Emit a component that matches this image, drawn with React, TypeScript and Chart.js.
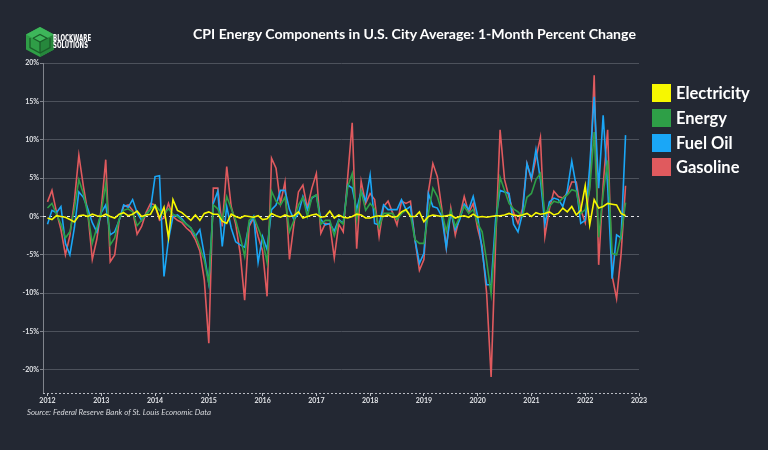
import React, { useEffect, useRef } from "react";
import { Chart, registerables } from "chart.js";

Chart.register(...registerables);

// ---- data (monthly % change, index 0 = Jan 2012) ----
const years = ["2012", "2013", "2014", "2015", "2016", "2017", "2018", "2019", "2020", "2021", "2022", "2023"];
const yTickValues = [-20, -15, -10, -5, 0, 5, 10, 15, 20];

const electricity = [
  -0.2, -0.4, 0.1, 0.0, -0.1, -0.4, -0.7, 0.1, 0.2, 0.0, 0.3, 0.1, 0.0, 0.3, 0.0, -0.2, 0.3, 0.5, 0.1, 0.3, 0.7, 0.0,
  0.2, 0.3, 1.4, -0.2, 1.2, -2.8, 2.2, 0.8, 0.5, 0.0, -0.5, 0.2, -0.5, 0.4, 0.6, 0.3, 0.3, -0.6, -0.9, 0.3, 0.0, -0.2, 0.1,
  0.0, -0.1, 0.1, -0.4, -0.3, 0.4, 0.1, -0.1, 0.2, 0.0, 0.1, 0.6, -0.2, 0.0, 0.2, 0.3, -0.1, 0.0, 0.7, -0.2, 0.2, -0.1,
  -0.2, 0.0, 0.3, 0.2, -0.2, -0.2, 0.0, 0.1, 0.0, 0.2, -0.1, 0.0, 0.6, 0.9, 0.0, 0.0, 0.6, -0.7, 0.0, 0.2, 0.1, 0.0,
  0.1, 0.2, -0.2, 0.0, 0.1, -0.1, 0.3, -0.1, 0.0, -0.1, 0.0, 0.1, 0.1, 0.2, 0.4, 0.2, 0.1, 0.2, 0.4, 0.0, 0.5, 0.3,
  0.4, 0.6, 0.2, 0.4, 1.1, 0.6, 1.3, 0.2, 0.8, 4.0, -1.1, 2.2, 1.1, 1.3, 1.7, 1.6, 1.5, 0.4, 0.1,
];

const energy = [
  1.1, 1.7, 0.3, -1.0, -2.8, -2.0, 1.0, 4.8, 3.0, 0.3, -3.5, -1.5, 0.5, 4.3, -3.7, -2.8, -0.3, 0.8, 1.0, 0.6, -1.2, -0.5,
  0.3, 1.0, 1.5, 0.8, 0.3, 1.0, 0.3, 0.0, -0.5, -1.0, -1.5, -2.4, -4.0, -5.7, -8.7, 1.5, 1.0, -0.5, 2.6, 1.0, -0.5, -2.6, -5.2,
  -0.5, 0.0, -1.5, -3.0, -6.0, 3.3, 2.0, 1.5, 2.5, -2.0, -0.5, 1.5, 2.5, 0.0, 2.5, 2.8, -1.0, -0.5, -0.5, -2.5, -0.5, -1.0,
  3.9, 5.6, -0.4, 3.3, 0.8, 1.7, 1.0, -1.4, 0.4, 0.4, 0.4, -0.4, 0.4, 0.8, 0.2, -3.0, -3.5, -3.5, 0.4, 3.7, 2.6, 0.6,
  -1.9, 0.8, -1.3, 0.0, 1.3, 0.4, 0.9, -0.9, -2.0, -5.8, -10.1, -1.8, 5.1, 3.4, 1.7, 1.0, 0.6, 0.0, 2.5, 3.0, 4.8, 5.6,
  0.2, 1.3, 2.0, 1.8, 2.4, 2.8, 3.5, 3.3, 0.4, 0.9, 3.5, 11.0, -2.7, 3.0, 7.3, -4.8, -5.0, -2.5, 1.8,
];

const fuelOil = [
  -1.0, 0.8, 0.5, 1.3, -3.5, -5.0, -1.5, 3.2, 2.5, 1.0, -0.8, -2.0, 0.5, 1.5, -2.4, -2.0, -0.5, 1.5, 1.2, 2.2, 0.5, -0.5,
  0.3, 1.0, 5.2, 5.3, -7.8, -3.0, 0.0, 0.2, -0.3, -1.0, -1.5, -2.6, -1.7, -5.0, -8.7, 1.7, 3.3, -3.9, 1.3, -1.5, -3.3, -3.7, -4.0,
  -1.0, 0.0, -6.0, -2.6, -4.3, 0.9, 1.5, 3.4, 3.4, 0.9, -0.4, 0.4, 2.6, 0.9, 2.4, 2.8, -0.4, -1.1, -0.9, -1.9, -0.4, -0.9,
  4.1, 3.7, 0.9, 3.3, 2.0, 5.4, -0.9, -1.1, 1.5, 0.9, 0.9, 0.9, 2.2, 0.9, 1.3, -3.0, -6.1, -4.8, 3.0, 1.3, 1.1, 0.0,
  -4.1, 0.6, -1.7, -0.4, 1.6, 0.9, 2.6, 0.0, -4.5, -8.9, -8.9, -0.4, 3.4, 3.2, 3.0, -1.0, -2.0, 0.4, 6.9, 5.0, 8.7, 4.8,
  -1.0, 1.9, 2.4, 2.2, 1.3, 3.4, 7.2, 3.9, -0.9, -0.5, 6.5, 15.6, 3.7, 13.2, 4.0, -8.1, -2.4, -2.8, 10.6,
];

const gasoline = [
  1.9, 3.4, 0.6, -1.7, -5.0, -2.5, 2.0, 8.0, 4.0, 0.5, -5.6, -3.0, 1.0, 7.4, -5.9, -5.0, -0.5, 1.3, 1.5, 0.8, -2.3, -1.3,
  0.5, 1.7, 1.5, -0.5, -0.2, 1.7, 0.0, -0.5, -0.8, -1.5, -2.0, -3.0, -4.5, -8.3, -16.5, 3.7, 3.7, -1.3, 6.5, 1.3, -1.0, -4.8, -10.9,
  -1.3, -0.2, -2.6, -4.5, -10.4, 7.6, 6.3, 1.7, 4.5, -5.6, -1.0, 3.2, 4.1, 1.1, 3.7, 5.6, -2.2, -0.9, -1.0, -5.4, -1.0, -2.0,
  5.2, 12.2, -4.2, 4.6, 1.7, 3.0, 2.2, -2.6, 1.3, 2.0, 0.5, -1.1, 2.0, 1.7, 2.0, -3.0, -7.0, -5.6, 3.2, 6.9, 5.2, 1.0,
  -4.1, 1.1, -2.4, 0.0, 2.6, 0.5, 1.7, -1.6, -3.9, -10.0, -20.9, -3.5, 11.3, 4.8, 2.5, 0.5, -0.9, 1.0, 6.9, 4.8, 7.6, 10.3,
  -2.6, 1.0, 3.3, 2.6, 2.4, 3.0, 4.5, 4.5, 0.9, -0.8, 4.0, 18.4, -6.3, 4.1, 11.3, -7.7, -10.7, -4.9, 4.0,
];

const seriesNames = ["Electricity", "Energy", "Fuel Oil", "Gasoline"];
const seriesValues = [electricity, energy, fuelOil, gasoline];
const seriesColors = ["#f7f700", "#2e9f47", "#1aa7f7", "#e05a5e"];

const BG = "#232833";

const refLines = {
  id: "refLines",
  beforeDatasetsDraw(chart: any) {
    const { ctx, chartArea, scales } = chart;
    const y0 = Math.round(scales.y.getPixelForValue(0)) + 0.5;
    ctx.save();
    ctx.lineWidth = 1;
    ctx.strokeStyle = "#e6e7ea";
    ctx.setLineDash([3, 3]);
    ctx.beginPath();
    ctx.moveTo(chartArea.left, y0);
    ctx.lineTo(chartArea.right, y0);
    ctx.stroke();
    const yb = Math.round(chartArea.bottom) + 0.5;
    ctx.strokeStyle = "#b9bcc3";
    ctx.setLineDash([2, 2]);
    ctx.beginPath();
    ctx.moveTo(chartArea.left, yb);
    ctx.lineTo(chartArea.right, yb);
    ctx.stroke();
    ctx.restore();
  },
};

export default function App() {
  const canvasRef = useRef<HTMLCanvasElement | null>(null);

  useEffect(() => {
    document.body.style.margin = "0";
    document.body.style.background = BG;
    const canvas = canvasRef.current;
    if (!canvas) return;
    const chart = new Chart(canvas, {
      type: "line",
      data: {
        datasets: seriesNames.map((name, k) => ({
          label: name,
          data: seriesValues[k].map((v, i) => ({ x: i, y: v })),
          borderColor: seriesColors[k],
          backgroundColor: seriesColors[k],
          borderWidth: 1.6,
          pointRadius: 0,
          tension: 0,
          fill: false,
        })),
      },
      options: {
        animation: false,
        responsive: false,
        maintainAspectRatio: false,
        devicePixelRatio: 1,
        layout: { padding: { left: 0, right: 129, top: 63, bottom: 37 } },
        plugins: {
          legend: { display: false },
          tooltip: { enabled: false },
          title: { display: false },
        },
        scales: {
          x: {
            type: "linear",
            min: -1,
            max: 132,
            bounds: "data",
            afterFit: (s: any) => {
              s.height = 20;
            },
            afterBuildTicks: (s: any) => {
              s.ticks = years.map((_, k) => ({ value: k * 12 }));
            },
            ticks: {
              autoSkip: false,
              maxRotation: 0,
              padding: 1,
              color: "#dfe1e5",
              font: { family: "Lato", size: 7, weight: "bold" },
              callback: (v: any) => years[Math.round(Number(v) / 12)] ?? "",
            },
            grid: {
              drawOnChartArea: false,
              drawTicks: true,
              tickLength: 3,
              tickColor: "#b9bcc3",
              color: "#b9bcc3",
            },
            border: { display: false },
          },
          y: {
            type: "linear",
            min: -23,
            max: 20,
            bounds: "data",
            afterFit: (s: any) => {
              s.width = 43;
            },
            afterBuildTicks: (s: any) => {
              s.ticks = yTickValues.map((v) => ({ value: v }));
            },
            ticks: {
              padding: 1,
              color: "#dfe1e5",
              font: { family: "Lato", size: 7, weight: "bold" },
              callback: (v: any) => `${v}%`,
            },
            grid: {
              color: (c: any) => (c.tick && c.tick.value === 0 ? "rgba(0,0,0,0)" : "#4d525c"),
              lineWidth: 1,
              tickLength: 3,
              tickColor: "#80848c",
            },
            border: { display: true, color: "#80848c", width: 1 },
          },
        },
      },
      plugins: [refLines],
    });
    return () => chart.destroy();
  }, []);

  return (
    <div
      style={{
        position: "absolute",
        left: 0,
        top: 0,
        width: 768,
        height: 450,
        background: BG,
        overflow: "hidden",
        fontFamily: "Lato, sans-serif",
      }}
    >
      <canvas ref={canvasRef} width={768} height={450} style={{ position: "absolute", left: 0, top: 0, width: 768, height: 450 }} />
      {/* logo */}
      <svg width={32} height={32} viewBox="0 0 32 32" style={{ position: "absolute", left: 24, top: 26 }}>
        <polygon points="16,1 30,8.5 30,23.5 16,31 2,23.5 2,8.5" fill="#2f9e47" />
        <polygon points="16,1 30,8.5 16,16 2,8.5" fill="#3db65a" />
        <polygon points="16,16 30,8.5 30,23.5 16,31" fill="#26873c" />
        <polyline points="9,12.2 16,8.5 23,12.2 16,16 9,12.2" fill="none" stroke="#1b5e2a" strokeWidth={1.3} />
        <polyline points="6,12 6,21.5 16,27 26,21.5 26,12" fill="none" stroke="#1b5e2a" strokeWidth={1.3} />
        <line x1={16} y1={16} x2={16} y2={27} stroke="#1b5e2a" strokeWidth={1.3} />
      </svg>
      <div
        style={{
          position: "absolute",
          left: 53,
          top: 35,
          color: "#ffffff",
          fontFamily: "'DejaVu Sans', sans-serif",
          fontWeight: 700,
          fontSize: 8,
          lineHeight: "7px",
          transform: "scaleX(0.68)",
          transformOrigin: "left top",
          whiteSpace: "nowrap",
        }}
      >
        <div>BLOCKWARE</div>
        <div>SOLUTIONS</div>
      </div>
      {/* title */}
      <div
        style={{
          position: "absolute",
          left: 193,
          top: 25,
          color: "#ffffff",
          fontSize: 14.1,
          fontWeight: 700,
          whiteSpace: "nowrap",
          lineHeight: "18px",
        }}
      >
        CPI Energy Components in U.S. City Average: 1-Month Percent Change
      </div>
      {/* legend */}
      <div style={{ position: "absolute", left: 652, top: 81 }}>
        {seriesNames.map((name, k) => (
          <div key={name} style={{ display: "flex", alignItems: "center", height: 24.7 }}>
            <div style={{ width: 19, height: 18, background: seriesColors[k], marginRight: 5 }} />
            <div style={{ color: "#ffffff", fontSize: 16.5, fontWeight: 700, lineHeight: "18px", whiteSpace: "nowrap" }}>{name}</div>
          </div>
        ))}
      </div>
      {/* source */}
      <div
        style={{
          position: "absolute",
          left: 27,
          top: 407,
          color: "#d6d8dc",
          fontSize: 7.9,
          fontStyle: "italic",
          whiteSpace: "nowrap",
          lineHeight: "10px",
        }}
      >
        Source: Federal Reserve Bank of St. Louis Economic Data
      </div>
    </div>
  );
}
